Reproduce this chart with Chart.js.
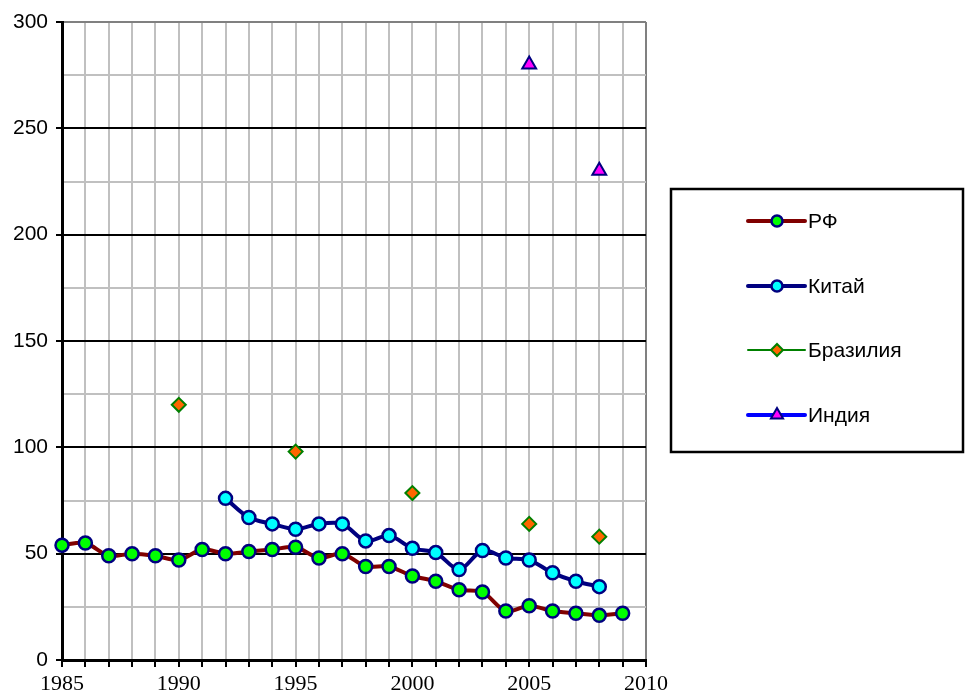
<!DOCTYPE html>
<html>
<head>
<meta charset="utf-8">
<script src="https://cdn.jsdelivr.net/npm/chart.js@4"></script>
<style>
  html, body { margin: 0; padding: 0; background: #fff; }
  #wrap { width: 966px; height: 696px; position: relative; }
</style>
</head>
<body>
<div id="wrap"><canvas id="chart"></canvas></div>
<script>
// years on the x axis
const years = [1985, 1986, 1987, 1988, 1989, 1990, 1991, 1992, 1993, 1994, 1995, 1996, 1997,
  1998, 1999, 2000, 2001, 2002, 2003, 2004, 2005, 2006, 2007, 2008, 2009, 2010];

const rf = [54, 55, 49, 50, 49, 47, 52, 50, 51, 52, 53, 48, 50,
  44, 44, 39.5, 37, 33, 32, 23, 25.5, 23, 22, 21, 22, null];
const china = [null, null, null, null, null, null, null, 76, 67, 64, 61.5, 64, 64,
  56, 58.5, 52.5, 50.5, 42.5, 51.5, 48, 47, 41, 37, 34.5, null, null];
const brazil = [null, null, null, null, null, 120, null, null, null, null, 98, null, null,
  null, null, 78.5, null, null, null, null, 64, null, null, 58, null, null];
const india = [null, null, null, null, null, null, null, null, null, null, null, null, null,
  null, null, null, null, null, null, null, 280, null, null, 230, null, null];

const seriesNames = ['РФ', 'Китай', 'Бразилия', 'Индия'];

// legend drawn as a boxed panel, like the original
const boxLegend = {
  id: 'boxLegend',
  afterDraw(chart) {
    const ctx = chart.ctx;
    ctx.save();
    ctx.strokeStyle = '#000';
    ctx.lineWidth = 2.5;
    ctx.strokeRect(671, 189, 292, 263);
    const rows = [221, 286, 350, 415];
    chart.data.datasets.forEach((ds, i) => {
      const y = rows[i];
      ctx.strokeStyle = ds.borderColor;
      ctx.lineWidth = ds.legendLine;
      ctx.lineCap = 'round';
      ctx.beginPath();
      ctx.moveTo(748, y);
      ctx.lineTo(805, y);
      ctx.stroke();
      ctx.fillStyle = ds.pointBackgroundColor;
      ctx.strokeStyle = ds.pointBorderColor;
      ctx.lineWidth = ds.pointBorderWidth;
      Chart.helpers.drawPoint(ctx, {
        pointStyle: ds.pointStyle, radius: ds.legendRadius, rotation: 0,
        borderWidth: ds.pointBorderWidth
      }, 777, y);
      ctx.fillStyle = '#000';
      ctx.font = '21px "Liberation Sans", Arial, sans-serif';
      ctx.textBaseline = 'middle';
      ctx.fillText(ds.label, 808, y + 1);
    });
    ctx.restore();
  }
};

new Chart(document.getElementById('chart'), {
  type: 'line',
  data: {
    labels: years,
    datasets: [
      {
        label: seriesNames[0], data: rf,
        borderColor: '#800000', borderWidth: 4, legendLine: 4, tension: 0.3,
        pointStyle: 'circle', pointRadius: 6.5, legendRadius: 5.5, pointBorderWidth: 2.5,
        pointBackgroundColor: '#00ff00', pointBorderColor: '#000080'
      },
      {
        label: seriesNames[1], data: china,
        borderColor: '#000080', borderWidth: 4, legendLine: 4, tension: 0.3,
        pointStyle: 'circle', pointRadius: 6.5, legendRadius: 5.5, pointBorderWidth: 2.5,
        pointBackgroundColor: '#00ffff', pointBorderColor: '#000080'
      },
      {
        label: seriesNames[2], data: brazil, showLine: false,
        borderColor: '#008000', legendLine: 2,
        pointStyle: 'rectRot', pointRadius: 7, legendRadius: 6, pointBorderWidth: 2,
        pointBackgroundColor: '#ff6600', pointBorderColor: '#008000'
      },
      {
        label: seriesNames[3], data: india, showLine: false,
        borderColor: '#0000ff', legendLine: 4,
        pointStyle: 'triangle', pointRadius: 8, legendRadius: 7, pointBorderWidth: 2,
        pointBackgroundColor: '#ff00ff', pointBorderColor: '#000080'
      }
    ]
  },
  options: {
    responsive: true,
    maintainAspectRatio: false,
    animation: false,
    layout: { padding: { top: 22, right: 320, left: 0, bottom: 0 } },
    plugins: { legend: { display: false }, tooltip: { enabled: false } },
    elements: { point: { hoverRadius: 6.5 } },
    scales: {
      x: {
        offset: false,
        afterFit: (s) => { s.height = 36; },
        grid: {
          color: (c) => (c.index === years.length - 1 ? '#808080' : '#c0c0c0'),
          lineWidth: 2,
          tickColor: '#000',
          tickWidth: 2,
          tickLength: 7
        },
        border: { color: '#000', width: 3 },
        ticks: {
          autoSkip: false,
          maxRotation: 0,
          padding: 4,
          color: '#000',
          font: { family: '"Liberation Serif", "Times New Roman", serif', size: 22 },
          callback: function (v, i) { return years[i] % 5 === 0 ? years[i] : ''; }
        }
      },
      y: {
        min: 0,
        max: 300,
        afterFit: (s) => { s.width = 62; },
        grid: {
          color: (c) => {
            const v = c.tick.value;
            if (v === 300) return '#808080';
            return v % 50 === 0 ? '#000' : '#c0c0c0';
          },
          lineWidth: 2,
          tickColor: (c) => (c.tick.value % 50 === 0 ? '#000' : 'rgba(0,0,0,0)'),
          tickWidth: 2,
          tickLength: 6
        },
        border: { color: '#000', width: 3 },
        ticks: {
          stepSize: 25,
          padding: 8,
          color: '#000',
          font: { family: '"Liberation Sans", Arial, sans-serif', size: 21 },
          callback: (v) => (v % 50 === 0 ? v : '')
        }
      }
    }
  },
  plugins: [boxLegend]
});
</script>
</body>
</html>
